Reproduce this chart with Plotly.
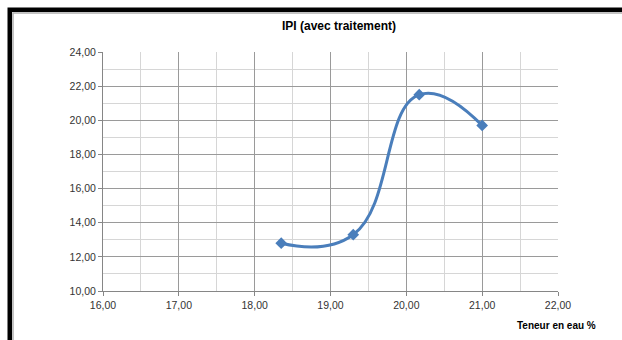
import plotly.graph_objects as go

# Teneur en eau (%) et IPI mesurés
teneur_eau = [18.35, 19.30, 20.17, 21.00]
ipi = [12.80, 13.30, 21.50, 19.70]

x_ticks = [16, 17, 18, 19, 20, 21, 22]
y_ticks = [10, 12, 14, 16, 18, 20, 22, 24]

W, H = 622, 340
L, R, T, B = 103, 64, 52, 49
pw, ph = W - L - R, H - T - B


def px_to_paper_x(px):
    return (px - L) / pw


def px_to_paper_y(py):
    return (H - B - py) / ph


fig = go.Figure()
fig.add_trace(go.Scatter(
    x=teneur_eau, y=ipi,
    mode="lines+markers",
    line=dict(color="#4a7ebb", width=3, shape="spline", smoothing=1.3),
    marker=dict(symbol="diamond", size=9, color="#4a7ebb"),
    showlegend=False,
    hoverinfo="x+y",
))

axis_font = dict(family="Liberation Sans", size=10.5, color="#333333")

fig.update_layout(
    width=W, height=H,
    margin=dict(l=L, r=R, t=T, b=B),
    paper_bgcolor="white",
    plot_bgcolor="white",
    separators=", ",
    xaxis=dict(
        range=[16, 22], tickvals=x_ticks, tickformat=".2f",
        showgrid=True, gridcolor="#9a9a9a", gridwidth=1,
        minor=dict(dtick=0.5, showgrid=True, gridcolor="#d6d6d6", gridwidth=1, ticks=""),
        showline=True, linecolor="#868686", linewidth=1,
        ticks="outside", ticklen=4, tickcolor="#868686",
        tickfont=axis_font, zeroline=False,
    ),
    yaxis=dict(
        range=[10, 24], tickvals=y_ticks, tickformat=".2f",
        showgrid=True, gridcolor="#9a9a9a", gridwidth=1,
        minor=dict(dtick=1, showgrid=True, gridcolor="#d6d6d6", gridwidth=1, ticks=""),
        showline=True, linecolor="#868686", linewidth=1,
        ticks="outside", ticklen=4, tickcolor="#868686",
        tickfont=axis_font, zeroline=False,
    ),
    title=dict(
        text="<b>IPI (avec traitement)</b>",
        xref="container", yref="container",
        x=339 / W, y=1 - 26 / H, xanchor="center", yanchor="middle",
        font=dict(family="Liberation Sans", size=12, color="#000000"),
    ),
    annotations=[dict(
        text="<b>Teneur en eau %</b>",
        xref="paper", yref="paper",
        x=px_to_paper_x(598), y=px_to_paper_y(325),
        xanchor="right", yanchor="middle", showarrow=False,
        font=dict(family="Liberation Sans", size=10, color="#000000"),
    )],
    shapes=[
        # cadre noir du graphique
        dict(type="rect", xref="paper", yref="paper",
             x0=px_to_paper_x(9.75), x1=px_to_paper_x(700),
             y0=px_to_paper_y(420), y1=px_to_paper_y(9.75),
             line=dict(color="#000000", width=4.5), fillcolor="rgba(0,0,0,0)",
             layer="above"),
        # liseré gris intérieur
        dict(type="rect", xref="paper", yref="paper",
             x0=px_to_paper_x(13), x1=px_to_paper_x(700),
             y0=px_to_paper_y(420), y1=px_to_paper_y(13),
             line=dict(color="#b0b0b0", width=1.5), fillcolor="rgba(0,0,0,0)",
             layer="above"),
    ],
)

fig.write_html("out.html")
